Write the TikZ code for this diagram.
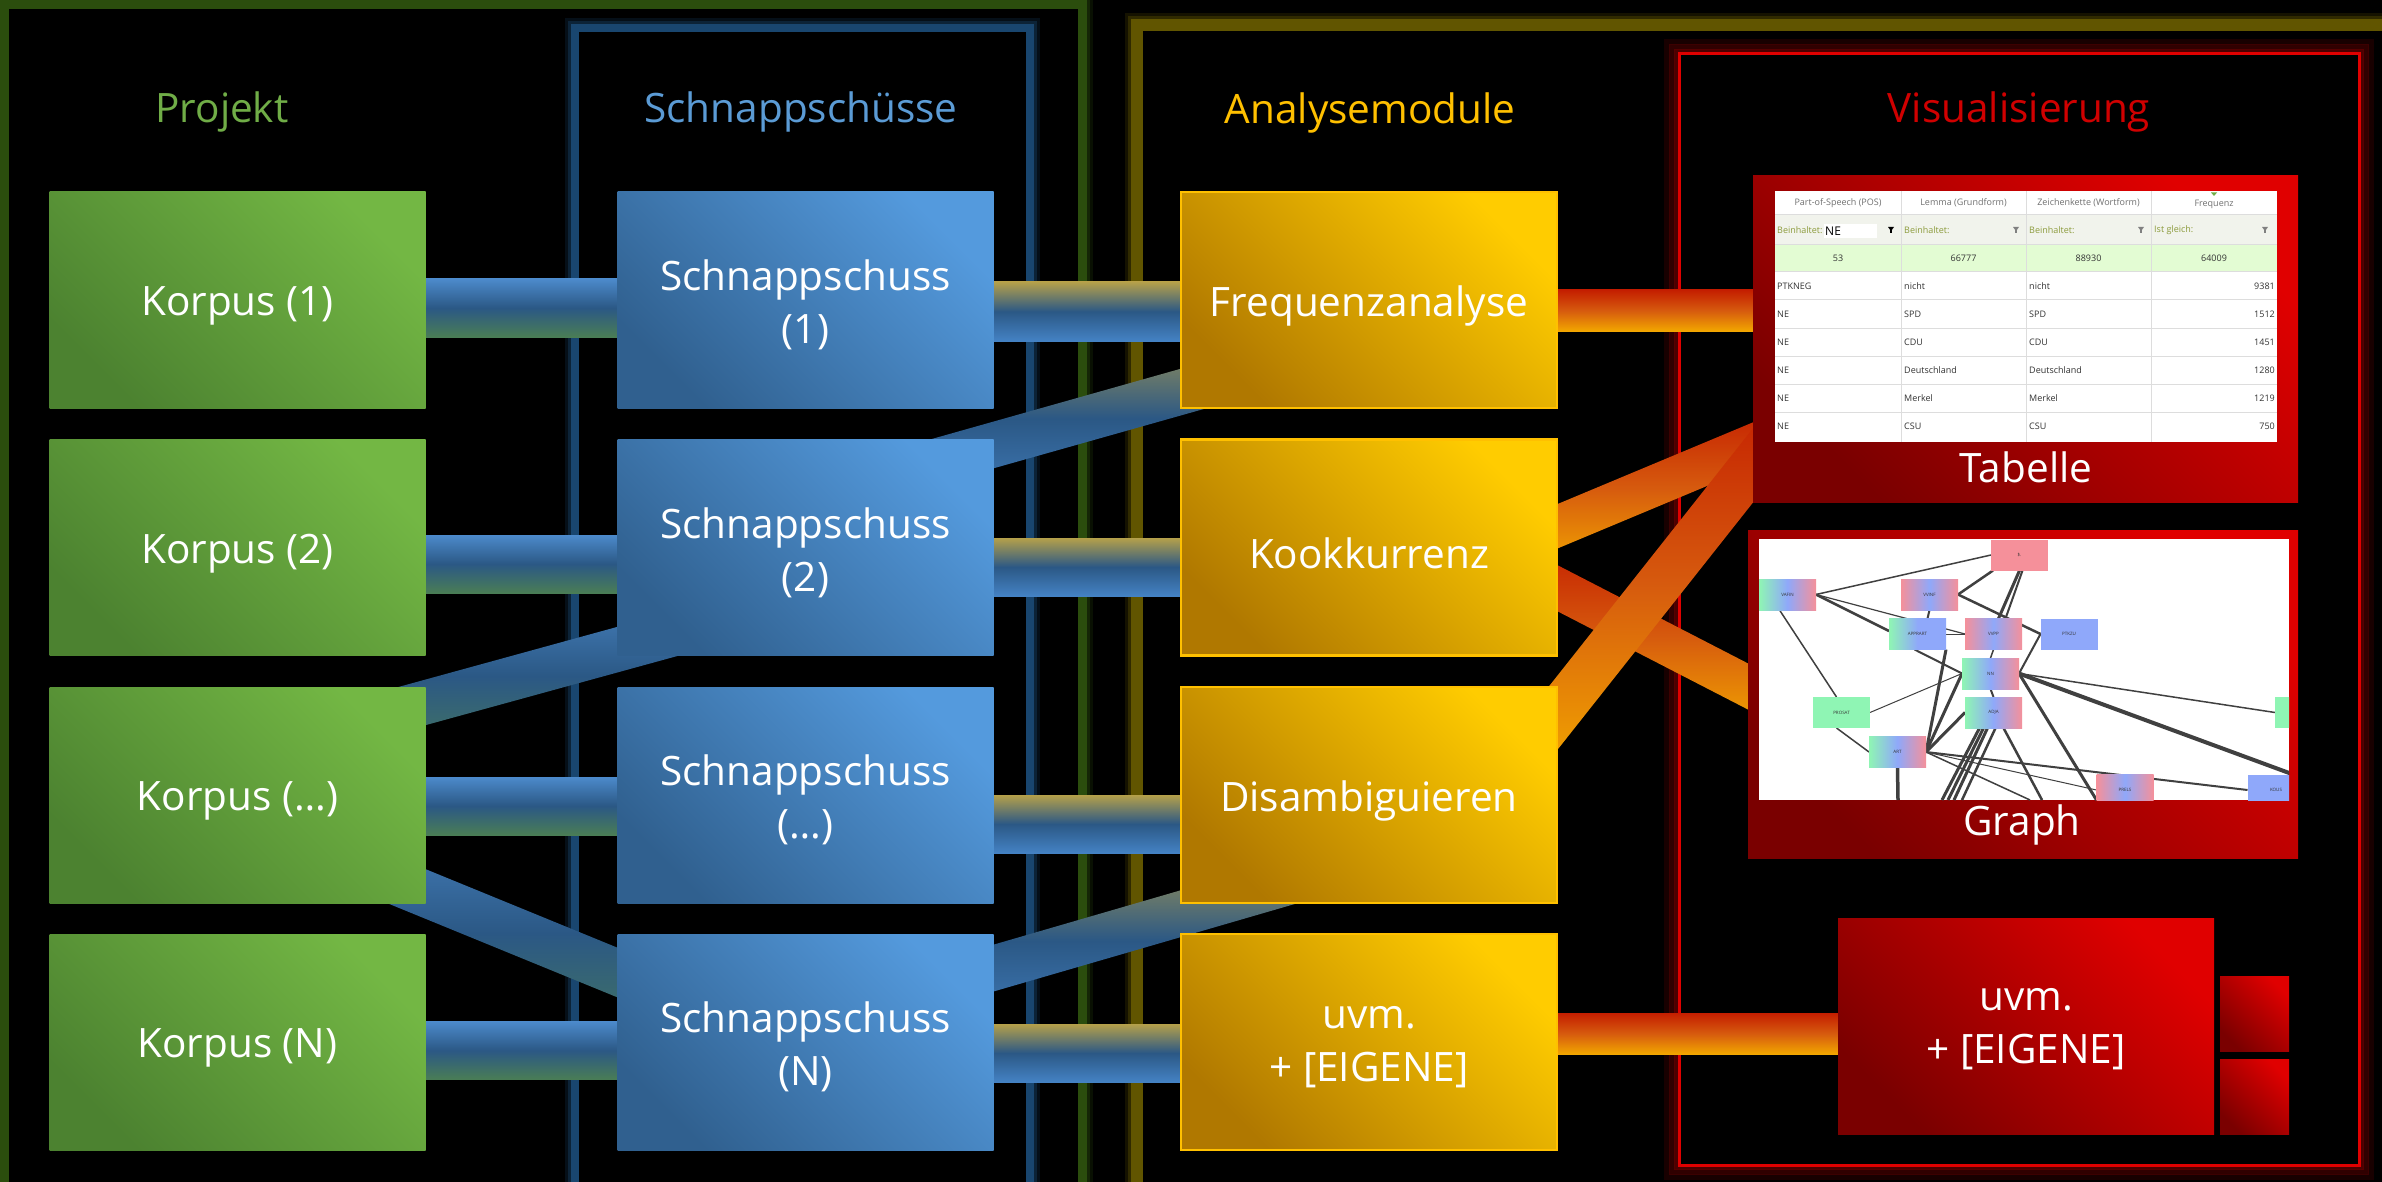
\documentclass[tikz,border=0pt]{standalone}
\usepackage{fontspec}
\setmainfont{Open Sans}
\usetikzlibrary{calc}
\pgfdeclarelayer{frames}
\pgfdeclarelayer{bars}
\pgfdeclarelayer{gedges}
\pgfdeclarelayer{gnodes}
\pgfsetlayers{frames,bars,main,gedges,gnodes}

\definecolor{hgreen}{HTML}{70AD47}
\definecolor{hblue}{HTML}{5B9BD5}
\definecolor{hyellow}{HTML}{FFC000}
\definecolor{hred}{HTML}{D00000}
\definecolor{gtop}{HTML}{73B744}
\definecolor{gbot}{HTML}{4C8230}
\definecolor{btop}{HTML}{549ADD}
\definecolor{bbot}{HTML}{30608F}
\definecolor{ytop}{HTML}{FFCC00}
\definecolor{ybot}{HTML}{B07800}
\definecolor{rtop}{HTML}{E00000}
\definecolor{rbot}{HTML}{7A0000}
\definecolor{frgreen}{HTML}{2B4D0D}
\definecolor{frblue}{HTML}{19466F}
\definecolor{fryellow}{HTML}{615500}
\definecolor{frred}{HTML}{E00000}
\definecolor{glred}{HTML}{600000}
\definecolor{tgrid}{HTML}{DDDDDD}
\definecolor{tfilter}{HTML}{F1F3EC}
\definecolor{tgreen}{HTML}{E3FCD3}
\definecolor{tolive}{HTML}{8C9B3C}
\definecolor{ttext}{HTML}{333333}
\definecolor{thead}{HTML}{707070}
\definecolor{gmint}{HTML}{8FF5B4}
\definecolor{gperi}{HTML}{8FA8FA}
\definecolor{gpink}{HTML}{F5909A}
\definecolor{gedge}{HTML}{404040}
\definecolor{cbluelt}{HTML}{4C8ACB}
\definecolor{cbluedk}{HTML}{2B5885}
\definecolor{cgreenbar}{HTML}{4A7D55}
\definecolor{cyelbar}{HTML}{B5A04A}
\definecolor{cbluebot}{HTML}{4482C4}
\definecolor{crtop}{HTML}{C41E00}
\definecolor{crmid}{HTML}{D65A0E}
\definecolor{crbot}{HTML}{F2A600}

\newcommand\conn[4]{%
  \path let \p1=(#1), \p2=(#2), \n1={veclen(\x2-\x1,\y2-\y1)} in
    (\p1) -- (\p2) node[midway, sloped, inner sep=0pt, outer sep=0pt,
      minimum width=\n1, minimum height=#3, #4] {};}

% frame band with sharp inner edge and soft outer glow
\newcommand\glowrect[6]{%
  \draw[#1, line width=3pt, opacity=0.22] ({#2-#6-4.5},{#3-#6-4.5}) rectangle ({#4+#6+4.5},{#5+#6+4.5});
  \draw[#1, line width=3pt, opacity=0.5] ({#2-#6-1.5},{#3-#6-1.5}) rectangle ({#4+#6+1.5},{#5+#6+1.5});
  \draw[#1, line width=#6pt] ({#2-#6/2},{#3-#6/2}) rectangle ({#4+#6/2},{#5+#6/2});
}

\begin{document}
\begin{tikzpicture}[x=1pt, y=-1pt,
  mainbox/.style={minimum width=376pt, minimum height=216pt, inner sep=0pt, outer sep=0pt},
  boxtext/.style={text=white, align=center, inner sep=0pt, font=\fontsize{40.5}{53}\selectfont},
  boxgreen/.style={mainbox, top color=gtop, bottom color=gbot, shading angle=-45},
  boxblue/.style={mainbox, top color=btop, bottom color=bbot, shading angle=-45},
  boxyellow/.style={mainbox, top color=ytop, bottom color=ybot, shading angle=-45, draw=hyellow, line width=2.5pt},
  boxred/.style={inner sep=0pt, outer sep=0pt, top color=rtop, bottom color=rbot, shading angle=-45},
  headtext/.style={font=\fontsize{40.5}{50}\selectfont, anchor=base},
  captext/.style={font=\fontsize{40.5}{50}\selectfont, anchor=base, text=white},
  gbar/.style={top color=cbluelt, bottom color=cgreenbar, middle color=cbluedk},
  bybar/.style={top color=cyelbar, bottom color=cbluebot, middle color=cbluedk},
  rbar/.style={top color=crtop, bottom color=crbot, middle color=crmid},
  tsmall/.style={font=\fontsize{9}{10}\selectfont, inner sep=0pt},
  gn/.style={minimum width=57pt, minimum height=31pt, inner sep=0pt, outer sep=0pt,
    font=\fontsize{4.5}{5}\selectfont, text=ttext},
  gn3/.style={gn, left color=gmint, right color=gpink, middle color=gperi},
  gline/.style={gedge, line width=#1}
]
\useasboundingbox (0,0) rectangle (2382,1182);

% ---------- frames ----------
\begin{pgfonlayer}{frames}
  \fill[black] (0,0) rectangle (2382,1182);
  \glowrect{frgreen}{9}{9}{1077.5}{1300}{9}
  \glowrect{frblue}{579}{32}{1026}{1300}{8}
  \glowrect{fryellow}{1143}{31}{2500}{1300}{12}
  \draw[glred, line width=6pt, opacity=0.25] (1667,42) rectangle (2371,1177);
  \draw[glred, line width=6pt, opacity=0.5] (1672,47) rectangle (2366,1172);
  \draw[glred, line width=5pt, opacity=0.8] (1676.5,51.5) rectangle (2361.5,1167.5);
  \draw[frred, line width=3pt] (1679,54) rectangle (2359,1165);
\end{pgfonlayer}

% ---------- headers ----------
\node[headtext, text=hgreen] (hproj) at (222,123) {Projekt};
\node[headtext, text=hblue] (hsnap) at (801,123) {Schnappschüsse};
\node[headtext, text=hyellow] (hana) at (1370,124) {Analysemodule};
\node[headtext, text=hred] (hvis) at (2019,123) {Visualisierung};

% ---------- boxes ----------
\node[boxgreen] (g1) at (237.5,300) {};
\node[boxgreen] (g2) at (237.5,547.5) {};
\node[boxgreen] (g3) at (237.5,795) {};
\node[boxgreen] (g4) at (237.5,1042) {};
\node[boxtext] (g1t) at ($(g1.center)+(0,6)$) {Korpus (1)};
\node[boxtext] (g2t) at ($(g2.center)+(0,6)$) {Korpus (2)};
\node[boxtext] (g3t) at ($(g3.center)+(0,6)$) {Korpus (…)};
\node[boxtext] (g4t) at ($(g4.center)+(0,6)$) {Korpus (N)};

\node[boxblue] (b1) at (805.5,300) {};
\node[boxblue] (b2) at (805.5,547.5) {};
\node[boxblue] (b3) at (805.5,795) {};
\node[boxblue] (b4) at (805.5,1042) {};
\node[boxtext] (b1t) at ($(b1.center)+(0,5)$) {Schnappschuss\\(1)};
\node[boxtext] (b2t) at ($(b2.center)+(0,5)$) {Schnappschuss\\(2)};
\node[boxtext] (b3t) at ($(b3.center)+(0,5)$) {Schnappschuss\\(…)};
\node[boxtext] (b4t) at ($(b4.center)+(0,5)$) {Schnappschuss\\(N)};

\node[boxyellow] (y1) at (1369,300) {};
\node[boxyellow] (y2) at (1369,547.5) {};
\node[boxyellow] (y3) at (1369,795) {};
\node[boxyellow] (y4) at (1369,1042) {};
\node[boxtext] (y1t) at ($(y1.center)+(0,6)$) {Frequenzanalyse};
\node[boxtext] (y2t) at ($(y2.center)+(0,6)$) {Kookkurrenz};
\node[boxtext] (y3t) at ($(y3.center)+(0,6)$) {Disambiguieren};
\node[boxtext] (y4t) at ($(y4.center)+(0,5)$) {uvm.\\+ [EIGENE]};

\node[boxred, minimum width=545pt, minimum height=326pt] (tab) at (2025.5,339) {};
\node[boxred, minimum width=550pt, minimum height=328pt] (graph) at (2023,694) {};
\node[boxred, minimum width=376pt, minimum height=216pt] (uvm) at (2026,1026) {};
\node[boxtext] (uvmt) at ($(uvm.center)+(0,3)$) {uvm.\\+ [EIGENE]};
\node[boxred, minimum width=69pt, minimum height=75pt] (sq1) at (2254.5,1013.5) {};
\node[boxred, minimum width=69pt, minimum height=75pt] (sq2) at (2254.5,1096.5) {};

\node[captext] (tabcap) at (2026,482) {Tabelle};
\node[captext] (graphcap) at (2022,835) {Graph};

% ---------- connectors ----------
\begin{pgfonlayer}{bars}
  \conn{$(g1.center)+(100,8)$}{$(b1.center)+(-100,8)$}{58pt}{gbar}
  \conn{$(g2.center)+(100,16.5)$}{$(b2.center)+(-100,16.5)$}{58pt}{gbar}
  \conn{$(g3.center)+(100,11)$}{$(b3.center)+(-100,11)$}{58pt}{gbar}
  \conn{$(g4.center)+(100,8.5)$}{$(b4.center)+(-100,8.5)$}{58pt}{gbar}
  \conn{$(b1.center)+(100,11.5)$}{$(y1.center)+(-100,11.5)$}{59pt}{bybar}
  \conn{$(b2.center)+(100,19.5)$}{$(y2.center)+(-100,19.5)$}{58pt}{bybar}
  \conn{$(b3.center)+(100,29)$}{$(y3.center)+(-100,29)$}{58pt}{bybar}
  \conn{$(b4.center)+(100,11)$}{$(y4.center)+(-100,11)$}{58pt}{bybar}
  \conn{$(b2.center)+(0,-49.5)$}{$(y1.center)+(0,39)$}{45pt}{bybar}
  \conn{$(g3.center)+(0,-41)$}{$(b2.center)+(0,50.5)$}{44pt}{gbar}
  \conn{$(g3.center)+(0,22)$}{$(b4.center)+(0,7.5)$}{46pt}{gbar}
  \conn{$(b4.center)+(0,-19.3)$}{$(y3.center)+(0,64)$}{45pt}{bybar}
  \conn{$(y1.center)+(131,10.5)$}{$(tab.center)+(-225.5,-28.5)$}{41pt}{rbar}
  \conn{$(y2.center)+(131,2.8)$}{$(tab.center)+(-225.5,85.9)$}{41pt}{rbar}
  \conn{$(y2.center)+(131,11.1)$}{$(graph.center)+(-223,19.3)$}{41pt}{rbar}
  \conn{$(y3.center)+(151,-35)$}{$(tab.center)+(-225.5,67)$}{46pt}{rbar}
  \conn{$(y4.center)+(131,-8.5)$}{$(uvm.center)+(-146,7.5)$}{41pt}{rbar}
\end{pgfonlayer}

% ---------- table ----------
\fill[white] (1775,191) rectangle (2277,442);
\fill[tfilter] (1775,215) rectangle (2277,245);
\fill[tgreen] (1775,245) rectangle (2277,272);
\foreach \yy in {215,245,272,300,328,356,384,412}
  \draw[tgrid, line width=1pt] (1775,\yy) -- (2277,\yy);
\foreach \xx in {1901,2026,2151}
  \draw[tgrid, line width=1pt] (\xx,191) -- (\xx,442);
\node[tsmall, text=thead] (th1) at (1838,203) {Part-of-Speech (POS)};
\node[tsmall, text=thead] (th2) at (1963.5,203) {Lemma (Grundform)};
\node[tsmall, text=thead] (th3) at (2088.5,203) {Zeichenkette (Wortform)};
\node[tsmall, text=thead] (th4) at (2214,204) {Frequenz};
\fill[hgreen] (2211,192.5) -- (2217,192.5) -- (2214,196) -- cycle;
\node[tsmall, text=tolive, anchor=west] (tf1) at (1777,230) {Beinhaltet:};
\node[tsmall, text=tolive, anchor=west] (tf2) at (1904,230) {Beinhaltet:};
\node[tsmall, text=tolive, anchor=west] (tf3) at (2029,230) {Beinhaltet:};
\node[tsmall, text=tolive, anchor=west] (tf4) at (2154,230) {Ist gleich:};
\fill[white] (1824,224) rectangle (1877,238);
\node[font=\fontsize{12}{12}\selectfont, inner sep=0pt, anchor=west, text=black] (tne) at (1825,231.5) {NE};
\foreach \xx/\cc in {1891/black,2016/gray,2141/gray,2265/gray}
  \fill[\cc] (\xx-3,227) -- (\xx+3,227) -- (\xx+0.8,230) -- (\xx+0.8,233) -- (\xx-0.8,233) -- (\xx-0.8,230) -- cycle;
\node[tsmall, text=ttext] (tn1) at (1838,258.5) {53};
\node[tsmall, text=ttext] (tn2) at (1963.5,258.5) {66777};
\node[tsmall, text=ttext] (tn3) at (2088.5,258.5) {88930};
\node[tsmall, text=ttext] (tn4) at (2214,258.5) {64009};
\foreach \yy/\a/\b/\c/\d in {286/PTKNEG/nicht/nicht/9381, 314/NE/SPD/SPD/1512, 342/NE/CDU/CDU/1451,
    370/NE/Deutschland/Deutschland/1280, 398/NE/Merkel/Merkel/1219, 426/NE/CSU/CSU/750}{
  \node[tsmall, text=ttext, anchor=west] at (1777,\yy) {\a};
  \node[tsmall, text=ttext, anchor=west] at (1904,\yy) {\b};
  \node[tsmall, text=ttext, anchor=west] at (2029,\yy) {\c};
  \node[tsmall, text=ttext, anchor=east] at (2275,\yy) {\d};
}

% ---------- graph ----------
\fill[white] (1759,539) rectangle (2289,800);
\begin{pgfonlayer}{gnodes}
\begin{scope}
  \clip (1759,539) rectangle (2289,800);
  \node[gn, fill=gpink] (gS) at (2019.5,555) {\$.};
  \node[gn3] (gVAFIN) at (1787.5,594.5) {VAFIN};
  \node[gn, left color=gpink, right color=gpink, middle color=gperi] (gVVINF) at (1929.5,594.5) {VVINF};
  \node[gn, left color=gmint, right color=gperi, middle color=gperi] (gAPPRART) at (1917.5,634) {APPRART};
  \node[gn, left color=gpink, right color=gpink, middle color=gperi] (gVVPP) at (1993.5,634) {VVPP};
  \node[gn, fill=gperi] (gPTKZU) at (2069,634) {PTKZU};
  \node[gn3] (gNN) at (1990.5,673.5) {NN};
  \node[gn3] (gADJA) at (1993.5,712.5) {ADJA};
  \node[gn, fill=gmint] (gPROSAT) at (1841.5,712.5) {PROSAT};
  \node[gn3] (gART) at (1897.5,752) {ART};
  \node[gn, fill=gmint] (gGR) at (2303.5,712.5) {};
  \node[gn, left color=gpink, right color=gpink, middle color=gperi] (gPRELS) at (2125,790) {PRELS};
  \node[gn, fill=gperi] (gKOUS) at (2276,790) {KOUS};
\end{scope}
\end{pgfonlayer}
\coordinate (gb1) at (1942,800);
\coordinate (gb2) at (1948,800);
\coordinate (gb3) at (1954,800);
\coordinate (gb4) at (2042,800);
\coordinate (gb5) at (2030,800);
\coordinate (gb6) at (1898,800);
\coordinate (gb7) at (2300,777);
\coordinate (gb8) at (1962,800);
\begin{pgfonlayer}{gedges}
\begin{scope}
  \clip (1759,539) rectangle (2289,800);
  \draw[gline=1.5] (gVAFIN.east) -- (gS.west);
  \draw[gline=2.5] (gVAFIN.east) -- ($(gAPPRART.west)+(0,-3)$);
  \draw[gline=1.2] (gVAFIN.east) -- (gVVPP.west);
  \draw[gline=1.5] ($(gVAFIN.south)+(-8,0)$) -- ($(gPROSAT.north)+(-5,0)$);
  \draw[gline=1] (gPROSAT.east) -- (gNN.west);
  \draw[gline=1.5] ($(gPROSAT.south)+(-5,0)$) -- (gART.west);
  \draw[gline=2] ($(gAPPRART.south)+(-3,0)$) -- (gNN.west);
  \draw[gline=2] ($(gAPPRART.north)+(10,0)$) -- (gVVINF.south);
  \draw[gline=2.5] (gVVINF.east) -- ($(gS.south west)+(2,0)$);
  \draw[gline=2.5] (gVVINF.east) -- (gPTKZU.west);
  \draw[gline=3] ($(gVVPP.north)+(5,0)$) -- (gS.south);
  \draw[gline=2] ($(gVVPP.north)+(12,0)$) -- ($(gS.south)+(3,0)$);
  \draw[gline=1.5] (gNN.north) -- (gVVPP.south);
  \draw[gline=2] (gNN.east) -- (gPTKZU.west);
  \draw[gline=3] (gNN.west) -- (gART.east);
  \draw[gline=1.5] (gNN.east) -- (gGR.west);
  \draw[gline=4] (gNN.east) -- (gb7);
  \draw[gline=3] (gNN.east) -- ($(gPRELS.west)+(0,10)$);
  \draw[gline=2] (gADJA.north) -- (gNN.south);
  \draw[gline=3] ($(gADJA.south)+(-14,0)$) -- (gb1);
  \draw[gline=3] ($(gADJA.south)+(-10,0)$) -- (gb2);
  \draw[gline=3] ($(gADJA.south)+(-6,0)$) -- (gb3);
  \draw[gline=2.5] ($(gADJA.south)+(10,0)$) -- (gb4);
  \draw[gline=2.5] ($(gADJA.south)+(2,0)$) -- (gb8);
  \draw[gline=3] (gART.east) -- (gADJA.west);
  \draw[gline=2] (gART.east) -- (gKOUS.west);
  \draw[gline=1] (gART.east) -- (gPRELS.west);
  \draw[gline=1.5] (gART.east) -- (gb5);
  \draw[gline=3.5] (gART.south) -- (gb6);
  \draw[gline=3] (gART.east) -- (gAPPRART.south east);
  \draw[gline=1] (gVVPP.west) -- (gAPPRART.east);
\end{scope}
\end{pgfonlayer}
\end{tikzpicture}
\end{document}
